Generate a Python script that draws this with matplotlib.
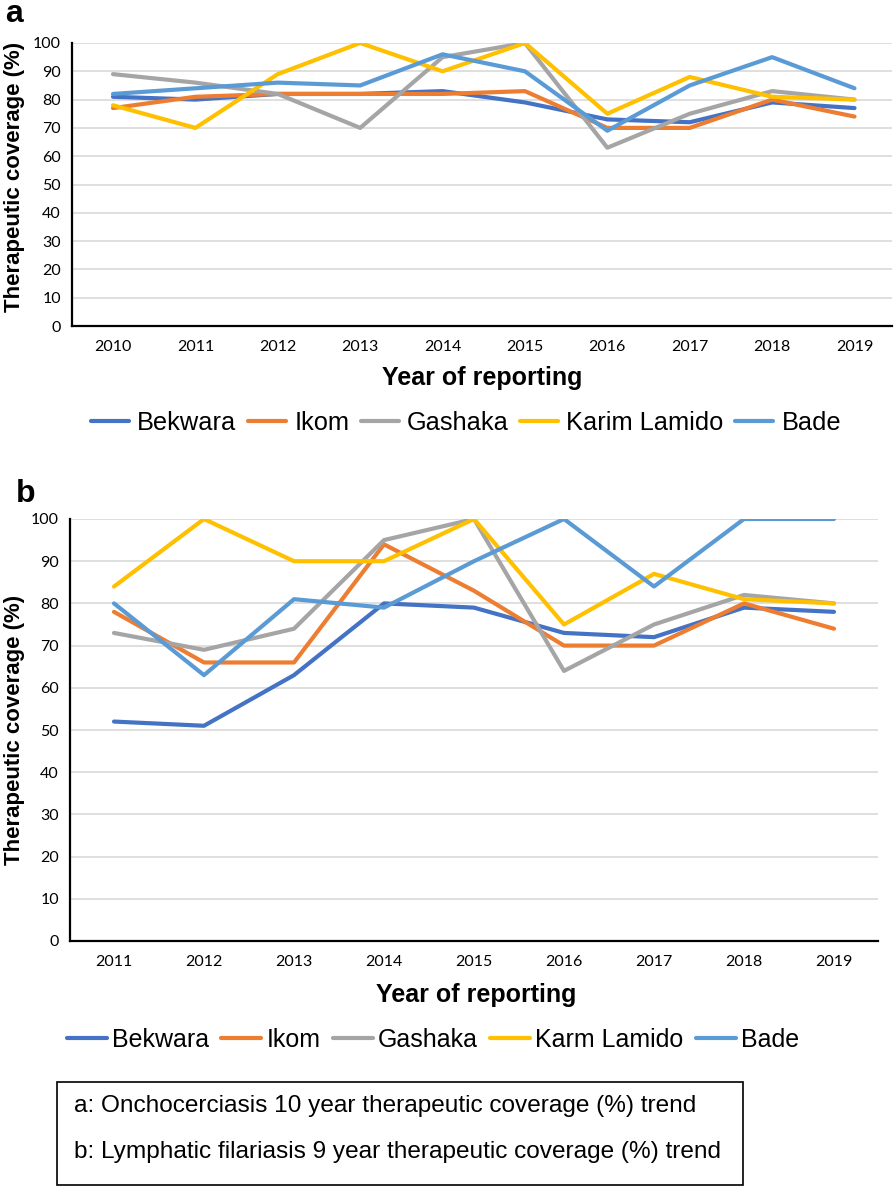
import numpy as np
import matplotlib
matplotlib.use('Agg')
import matplotlib.pyplot as plt
from matplotlib.patches import Rectangle

# panel a: onchocerciasis, 2010-2019
years_a = ['2010', '2011', '2012', '2013', '2014', '2015', '2016', '2017', '2018', '2019']
bekwara_a = [81, 80, 82, 82, 83, 79, 73, 72, 79, 77]
ikom_a = [77, 81, 82, 82, 82, 83, 70, 70, 80, 74]
gashaka_a = [89, 86, 82, 70, 95, 100, 63, 75, 83, 80]
karim_a = [78, 70, 89, 100, 90, 100, 75, 88, 81, 80]
bade_a = [82, 84, 86, 85, 96, 90, 69, 85, 95, 84]
names_a = ['Bekwara', 'Ikom', 'Gashaka', 'Karim Lamido', 'Bade']

# panel b: lymphatic filariasis, 2011-2019
years_b = ['2011', '2012', '2013', '2014', '2015', '2016', '2017', '2018', '2019']
bekwara_b = [52, 51, 63, 80, 79, 73, 72, 79, 78]
ikom_b = [78, 66, 66, 94, 83, 70, 70, 80, 74]
gashaka_b = [73, 69, 74, 95, 100, 64, 75, 82, 80]
karm_b = [84, 100, 90, 90, 100, 75, 87, 81, 80]
bade_b = [80, 63, 81, 79, 90, 100, 84, 100, 100]
names_b = ['Bekwara', 'Ikom', 'Gashaka', 'Karm Lamido', 'Bade']

colors = ['#4472C4', '#ED7D31', '#A5A5A5', '#FFC000', '#5B9BD5']

W, H = 896., 1187.
fig = plt.figure(figsize=(W/100, H/100), dpi=100)

def box(l, r, t, b):
    return [l/W, 1-b/H, (r-l)/W, (b-t)/H]

def style(ax, years, lo, hi):
    ax.set_ylim(0, 100)
    ax.set_yticks(np.arange(0, 101, 10))
    ax.set_xticks(range(len(years)))
    ax.set_xticklabels(years)
    ax.set_xlim(lo, hi)
    ax.grid(axis='y', color='#D9D9D9', lw=1.2)
    ax.set_axisbelow(True)
    for s in ['top', 'right']:
        ax.spines[s].set_visible(False)
    for s in ['left', 'bottom']:
        ax.spines[s].set_linewidth(1.6)
        ax.spines[s].set_zorder(5)
    ax.tick_params(length=0, labelsize=11.5, pad=8)
    for lab in ax.get_xticklabels() + ax.get_yticklabels():
        lab.set_family('Lato')
    ax.tick_params(axis='x', pad=10)

ax1 = fig.add_axes(box(72, 892, 43, 326))
for ys, c, n in zip([bekwara_a, ikom_a, gashaka_a, karim_a, bade_a], colors, names_a):
    ax1.plot(range(len(years_a)), ys, color=c, lw=3, label=n, solid_capstyle='round')
style(ax1, years_a, -0.4976, 9.455)
ax1.legend(loc='center', bbox_to_anchor=(466/W, 1-423/H), bbox_transform=fig.transFigure,
           ncol=5, frameon=False, prop={'family': 'Liberation Sans', 'size': 18.3},
           handlelength=1.5, handletextpad=0.32, columnspacing=0.45, borderpad=0)

ax2 = fig.add_axes(box(70, 878, 519, 941))
for ys, c, n in zip([bekwara_b, ikom_b, gashaka_b, karm_b, bade_b], colors, names_b):
    ax2.plot(range(len(years_b)), ys, color=c, lw=3, label=n, solid_capstyle='round')
style(ax2, years_b, -0.489, 8.489)
ax2.legend(loc='center', bbox_to_anchor=(433/W, 1-1040/H), bbox_transform=fig.transFigure,
           ncol=5, frameon=False, prop={'family': 'Liberation Sans', 'size': 18},
           handlelength=1.6, handletextpad=0.2, columnspacing=0.5, borderpad=0)

lab_kw = dict(family='Liberation Sans', weight='bold', ha='center', va='center')
fig.text(15/W, 1-177/H, 'Therapeutic coverage (%)', rotation=90, fontsize=16, **lab_kw)
fig.text(15/W, 1-730/H, 'Therapeutic coverage (%)', rotation=90, fontsize=16, **lab_kw)
fig.text(482/W, 1-378/H, 'Year of reporting', fontsize=18, **lab_kw)
fig.text(476/W, 1-995/H, 'Year of reporting', fontsize=18, **lab_kw)
fig.text(14/W, 1-14/H, 'a', fontsize=23, **lab_kw)
fig.text(26/W, 1-494/H, 'b', fontsize=23, **lab_kw)

fig.patches.append(Rectangle((57/W, 1-1185/H), 686/W, 103/H, transform=fig.transFigure,
                             fill=False, ec='black', lw=1.2))
fig.text(74/W, 1-1106/H, 'a: Onchocerciasis 10 year therapeutic coverage (%) trend',
         family='Liberation Sans', fontsize=17.6, va='center')
fig.text(74/W, 1-1152/H, 'b: Lymphatic filariasis 9 year therapeutic coverage (%) trend',
         family='Liberation Sans', fontsize=17.6, va='center')

fig.savefig('out.png', dpi=100)
